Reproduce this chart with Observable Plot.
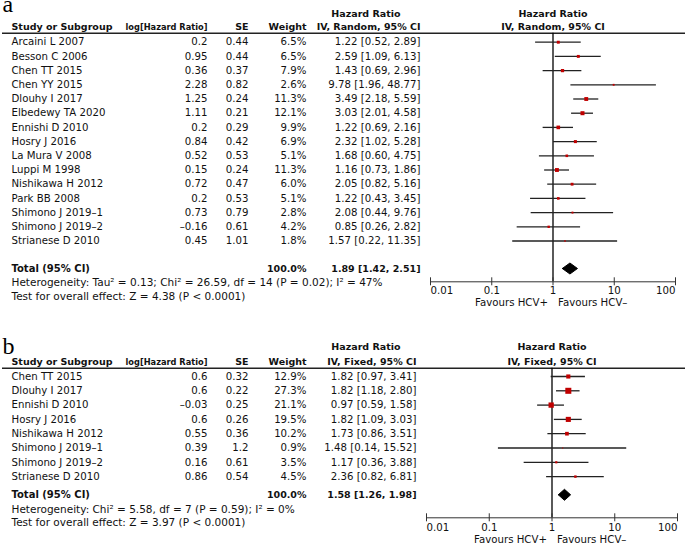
<!DOCTYPE html>
<html><head><meta charset="utf-8">
<script src="https://cdn.jsdelivr.net/npm/d3@7"></script>
<script src="https://cdn.jsdelivr.net/npm/@observablehq/plot@0.6"></script>
<style>
body{margin:0;background:#fff;}
#chart{width:685px;}
#chart svg{display:block;}
</style></head><body><div id="chart"></div>
<script>
// ---------- Panel a (random effects) ----------
const studiesA = ["Arcaini L 2007","Besson C 2006","Chen TT 2015","Chen YY 2015","Dlouhy I 2017","Elbedewy TA 2020","Ennishi D 2010","Hosry J 2016","La Mura V 2008","Luppi M 1998","Nishikawa H 2012","Park BB 2008","Shimono J 2019–1","Shimono J 2019–2","Strianese D 2010"];
const logHRA = [0.2,0.95,0.36,2.28,1.25,1.11,0.2,0.84,0.52,0.15,0.72,0.2,0.73,-0.16,0.45];
const seA = [0.44,0.44,0.37,0.82,0.24,0.21,0.29,0.42,0.53,0.24,0.47,0.53,0.79,0.61,1.01];
const weightA = [6.5,6.5,7.9,2.6,11.3,12.1,9.9,6.9,5.1,11.3,6.0,5.1,2.8,4.2,1.8];
const hrA = [1.22,2.59,1.43,9.78,3.49,3.03,1.22,2.32,1.68,1.16,2.05,1.22,2.08,0.85,1.57];
const loA = [0.52,1.09,0.69,1.96,2.18,2.01,0.69,1.02,0.60,0.73,0.82,0.43,0.44,0.26,0.22];
const hiA = [2.89,6.13,2.96,48.77,5.59,4.58,2.16,5.28,4.75,1.86,5.16,3.45,9.76,2.82,11.35];
const totalA = {w:100.0, hr:1.89, lo:1.42, hi:2.51};
const hetA = "Heterogeneity: Tau² = 0.13; Chi² = 26.59, df = 14 (P = 0.02); I² = 47%";
const testA = "Test for overall effect: Z = 4.38 (P < 0.0001)";
const methodA = "IV, Random, 95% CI";

// ---------- Panel b (fixed effects) ----------
const studiesB = ["Chen TT 2015","Dlouhy I 2017","Ennishi D 2010","Hosry J 2016","Nishikawa H 2012","Shimono J 2019–1","Shimono J 2019–2","Strianese D 2010"];
const logHRB = [0.6,0.6,-0.03,0.6,0.55,0.39,0.16,0.86];
const seB = [0.32,0.22,0.25,0.26,0.36,1.2,0.61,0.54];
const weightB = [12.9,27.3,21.1,19.5,10.2,0.9,3.5,4.5];
const hrB = [1.82,1.82,0.97,1.82,1.73,1.48,1.17,2.36];
const loB = [0.97,1.18,0.59,1.09,0.86,0.14,0.36,0.82];
const hiB = [3.41,2.80,1.58,3.03,3.51,15.52,3.88,6.81];
const totalB = {w:100.0, hr:1.58, lo:1.26, hi:1.98};
const hetB = "Heterogeneity: Chi² = 5.58, df = 7 (P = 0.59); I² = 0%";
const testB = "Test for overall effect: Z = 3.97 (P < 0.0001)";
const methodB = "IV, Fixed, 95% CI";

// ---------- shared labels ----------
const headerCols = ["Study or Subgroup","log[Hazard Ratio]","SE","Weight"];
const hrTitle = "Hazard Ratio";
const totalLabel = "Total (95% CI)";
const tickValues = [0.01, 0.1, 1, 10, 100];
const tickLabels = ["0.01","0.1","1","10","100"];
const favours = ["Favours HCV+","Favours HCV–"];

const FONT = "DejaVu Sans";
const FS = 10.2, FSB = 9.5;
const fmtNum = v => String(v).replace("-", "–");
const fmtCI = (h,l,u) => `${h.toFixed(2)} [${l.toFixed(2)}, ${u.toFixed(2)}]`;

function panel(cfg){
  const {H, row0, rowH, L} = cfg;
  const R = px => (px - row0) / rowH;
  const rows = cfg.studies.map((s,i)=>({i, study:s, lhr:cfg.logHR[i], se:cfg.se[i], w:cfg.weight[i], hr:cfg.hr[i], lo:cfg.lo[i], hi:cfg.hi[i]}));
  const yTot = R(L.total);
  const dh = L.diamondHalf / rowH;
  const T = cfg.total;
  const diamond = [{x:T.lo,y:yTot},{x:T.hr,y:yTot-dh},{x:T.hi,y:yTot},{x:T.hr,y:yTot+dh},{x:T.lo,y:yTot}];
  const yAxis = R(L.axis);
  const tickHalf = 4 / rowH;
  const ticks = tickValues.map((v,k)=>({v, label:tickLabels[k]}));
  const nT = ticks.length;

  const cols = cfg.cols;
  const one = [0];
  const txt = (text, px, x, anchor, bold, extra={}) => Plot.text(one, {
    y: () => R(px), text: () => text, frameAnchor: "left", dx: x, textAnchor: anchor,
    fontWeight: bold ? "bold" : "normal", fill: "#111", fontSize: bold ? FSB : FS, ...extra
  });
  const col = (text, x, anchor) => Plot.text(rows, {y: "i", text, frameAnchor: "left", dx: x, textAnchor: anchor, fontSize: FS, fill: "#111"});

  const marks = [
    // panel letter
    txt(cfg.letter, L.letter, 2, "start", false, {fontFamily: "Liberation Serif", fontSize: 24, fill: "#000"}),
    // headers
    txt(headerCols[0], L.head2, cols.study, "start", true),
    txt(headerCols[1], L.head2, cols.lhr, "end", true),
    txt(headerCols[2], L.head2, cols.se, "end", true),
    txt(headerCols[3], L.head2, cols.w, "end", true),
    txt(hrTitle, L.head1, cols.hdr1, "end", true),
    txt(cfg.method, L.head2, cols.ci, "end", true),
    Plot.text(one, {x: () => 1, y: () => R(L.head1), text: () => hrTitle, fontWeight: "bold", fontSize: FSB, fill: "#111"}),
    Plot.text(one, {x: () => 1, y: () => R(L.head2), text: () => cfg.method, fontWeight: "bold", fontSize: FSB, fill: "#111"}),
    // header rule across the full width
    Plot.ruleY(one, {y: () => R(L.rule), stroke: "#222", strokeWidth: 1.5, insetLeft: 2}),
    // study rows
    col("study", cols.study, "start"),
    col(d => fmtNum(d.lhr), cols.lhr, "end"),
    col(d => fmtNum(d.se), cols.se, "end"),
    col(d => d.w.toFixed(1) + "%", cols.w, "end"),
    col(d => fmtCI(d.hr, d.lo, d.hi), cols.ci, "end"),
    // totals
    txt(totalLabel, L.total, cols.study, "start", true, {fontSize: 10}),
    txt(T.w.toFixed(1) + "%", L.total, cols.w, "end", true),
    txt(fmtCI(T.hr, T.lo, T.hi), L.total, cols.ci, "end", true),
    txt(cfg.het, L.het, cols.study, "start", false, {fontSize: 10.5}),
    txt(cfg.test, L.test, cols.study, "start", false, {fontSize: 10.5}),
    // forest: line of no effect
    Plot.ruleX([1], {y1: () => R(L.rule), y2: () => yAxis, stroke: "#000", strokeWidth: 1.3}),
    // CIs and study squares
    Plot.ruleY(rows, {y: "i", x1: "lo", x2: "hi", stroke: "#222", strokeWidth: 1.3}),
    Plot.dot(rows, {x: "hr", y: "i", r: "w", symbol: "square", fill: "#c00000", stroke: null}),
    // pooled diamond
    Plot.line(diamond, {x: "x", y: "y", fill: "#000", stroke: "#000", strokeWidth: 1}),
    // axis
    Plot.ruleY(one, {y: () => yAxis, x1: () => tickValues[0], x2: () => tickValues[nT-1], stroke: "#333", strokeWidth: 1}),
    Plot.ruleX(ticks, {x: "v", y1: () => yAxis - tickHalf, y2: () => yAxis + tickHalf, stroke: "#333", strokeWidth: 1}),
    Plot.text(ticks.slice(0,1), {x: "v", y: () => R(L.tickLabel), text: "label", textAnchor: "start", fontSize: FS, fill: "#111"}),
    Plot.text(ticks.slice(1,nT-1), {x: "v", y: () => R(L.tickLabel), text: "label", textAnchor: "middle", fontSize: FS, fill: "#111"}),
    Plot.text(ticks.slice(nT-1), {x: "v", y: () => R(L.tickLabel), text: "label", textAnchor: "end", fontSize: FS, fill: "#111"}),
    Plot.text(one, {x: () => 1, y: () => R(L.favours), text: () => favours[0], textAnchor: "end", dx: -5, fontSize: FS, fill: "#111"}),
    Plot.text(one, {x: () => 1, y: () => R(L.favours), text: () => favours[1], textAnchor: "start", dx: 5, fontSize: FS, fill: "#111"})
  ];

  const svg = Plot.plot({
    width: 685, height: H,
    marginLeft: 0, marginRight: 0, marginTop: 0, marginBottom: 0,
    style: {fontFamily: FONT, fontSize: "10px", background: "#fff", color: "#111"},
    x: {type: "log", domain: [0.01, 100], range: cfg.xRange, axis: null},
    y: {domain: [R(0), R(H)], range: [0, H], axis: null},
    r: {type: "sqrt", domain: [0, 27.3], range: [0, 3.4]},
    marks
  });
  // the reference renders this header noticeably narrower
  svg.querySelectorAll("text").forEach(t => {
    if (t.textContent === headerCols[1]) { t.setAttribute("textLength", cols.lhrW); t.setAttribute("lengthAdjust", "spacingAndGlyphs"); }
  });
  return svg;
}

const chart = document.getElementById("chart");
chart.append(panel({
  letter: "a", H: 320, row0: 41.7, rowH: 14.2, xRange: [430, 675],
  studies: studiesA, logHR: logHRA, se: seA, weight: weightA, hr: hrA, lo: loA, hi: hiA,
  total: totalA, het: hetA, test: testA, method: methodA,
  cols: {study: 11, lhr: 207, lhrW: 82, se: 248, w: 306, ci: 420, hdr1: 400},
  L: {letter: 4, head1: 13.3, head2: 26.7, rule: 32.7, total: 268, diamondHalf: 5.5, het: 281.7, test: 295.7, axis: 281.3, tickLabel: 290.5, favours: 302.7}
}));
chart.append(panel({
  letter: "b", H: 224, row0: 56, rowH: 14.3, xRange: [426, 677],
  studies: studiesB, logHR: logHRB, se: seB, weight: weightB, hr: hrB, lo: loB, hi: hiB,
  total: totalB, het: hetB, test: testB, method: methodB,
  cols: {study: 11, lhr: 207, lhrW: 82, se: 248, w: 306, ci: 416, hdr1: 400},
  L: {letter: 26.3, head1: 26.7, head2: 41, rule: 47.7, total: 174.3, diamondHalf: 5.5, het: 189.3, test: 202.3, axis: 197.3, tickLabel: 207.7, favours: 218.8}
}));
</script>
</body></html>
